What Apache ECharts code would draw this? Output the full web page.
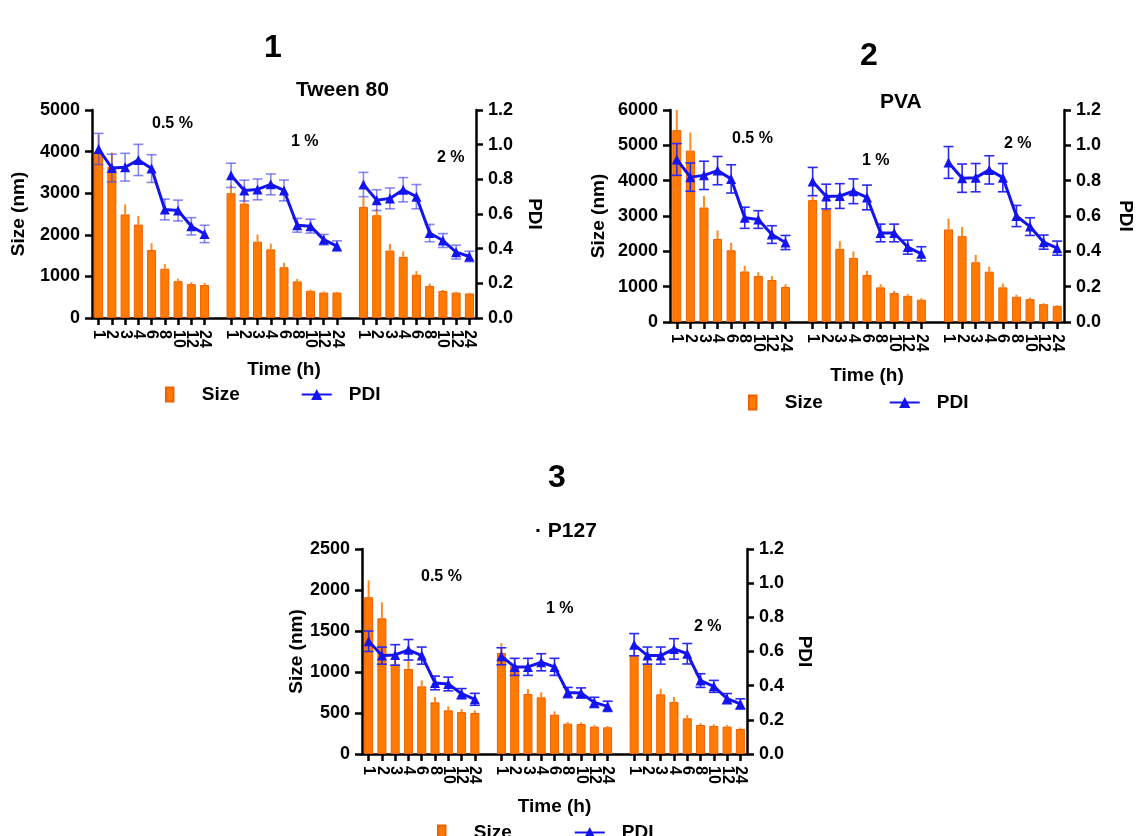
<!DOCTYPE html>
<html>
<head>
<meta charset="utf-8">
<title>Size and PDI over time</title>
<script src="https://cdn.jsdelivr.net/npm/echarts@6.0.0/dist/echarts.min.js"></script>
<style>
  html, body { margin: 0; padding: 0; background: #fff; }
  #chart { width: 1136px; height: 836px; }
</style>
</head>
<body>
<div id="chart"></div>
<script>
// time points (h), repeated for each concentration group
const hours = ['1', '2', '3', '4', '6', '8', '10', '12', '24'];
const concLabels = ['0.5 %', '1 %', '2 %'];

// 1 - Tween 80
const tweenSize05 = [4000, 3630, 2490, 2245, 1635, 1185, 885, 815, 795];
const tweenSize1 = [3000, 2750, 1835, 1650, 1220, 880, 655, 612, 612];
const tweenSize2 = [2670, 2470, 1620, 1470, 1040, 770, 650, 610, 590];
const tweenSizeErr05 = [400, 350, 240, 210, 160, 110, 60, 45, 45];
const tweenSizeErr1 = [200, 200, 170, 140, 110, 60, 30, 30, 20];
const tweenSizeErr2 = [230, 150, 160, 130, 90, 60, 25, 20, 20];
const tweenPdi05 = [0.975, 0.865, 0.87, 0.912, 0.862, 0.626, 0.62, 0.529, 0.485];
const tweenPdi1 = [0.823, 0.735, 0.742, 0.771, 0.736, 0.535, 0.53, 0.452, 0.415];
const tweenPdi2 = [0.77, 0.68, 0.69, 0.74, 0.70, 0.49, 0.447, 0.38, 0.355];
const tweenPdiErr05 = [0.09, 0.08, 0.08, 0.09, 0.08, 0.06, 0.06, 0.05, 0.05];
const tweenPdiErr1 = [0.07, 0.06, 0.06, 0.06, 0.06, 0.04, 0.04, 0.03, 0.03];
const tweenPdiErr2 = [0.07, 0.06, 0.06, 0.07, 0.07, 0.05, 0.04, 0.04, 0.03];

// 2 - PVA
const pvaSize05 = [5430, 4850, 3240, 2350, 2030, 1430, 1300, 1190, 990];
const pvaSize1 = [3450, 3170, 2070, 1815, 1330, 980, 820, 740, 630];
const pvaSize2 = [2620, 2430, 1690, 1425, 980, 713, 646, 504, 456];
const pvaSizeErr05 = [570, 510, 330, 240, 210, 160, 110, 110, 80];
const pvaSizeErr1 = [100, 200, 220, 185, 120, 90, 60, 50, 45];
const pvaSizeErr2 = [310, 260, 210, 145, 110, 57, 44, 26, 19];
const pvaPdi05 = [0.92, 0.82, 0.83, 0.857, 0.81, 0.59, 0.58, 0.495, 0.45];
const pvaPdi1 = [0.795, 0.71, 0.713, 0.74, 0.705, 0.504, 0.504, 0.424, 0.386];
const pvaPdi2 = [0.903, 0.814, 0.817, 0.861, 0.817, 0.60, 0.54, 0.452, 0.418];
const pvaPdiErr05 = [0.09, 0.08, 0.08, 0.08, 0.08, 0.06, 0.05, 0.05, 0.04];
const pvaPdiErr1 = [0.08, 0.07, 0.07, 0.07, 0.07, 0.05, 0.05, 0.04, 0.04];
const pvaPdiErr2 = [0.09, 0.08, 0.08, 0.08, 0.08, 0.06, 0.05, 0.04, 0.04];

// 3 - P127
const p127Size05 = [1912, 1655, 1090, 1037, 825, 630, 533, 512, 500];
const p127Size1 = [1232, 1077, 732, 691, 480, 370, 366, 334, 326];
const p127Size2 = [1200, 1099, 728, 636, 435, 354, 342, 334, 306];
const p127SizeErr05 = [206, 195, 150, 110, 73, 65, 48, 37, 32];
const p127SizeErr1 = [121, 90, 61, 61, 40, 20, 20, 20, 16];
const p127SizeErr2 = [40, 30, 69, 60, 40, 20, 20, 20, 16];
const p127Pdi05 = [0.66, 0.576, 0.58, 0.61, 0.576, 0.416, 0.41, 0.353, 0.32];
const p127Pdi1 = [0.572, 0.51, 0.51, 0.537, 0.51, 0.36, 0.357, 0.302, 0.279];
const p127Pdi2 = [0.64, 0.576, 0.576, 0.615, 0.587, 0.43, 0.396, 0.324, 0.293];
const p127PdiErr05 = [0.06, 0.05, 0.06, 0.06, 0.05, 0.04, 0.04, 0.03, 0.035];
const p127PdiErr1 = [0.05, 0.05, 0.05, 0.05, 0.05, 0.03, 0.03, 0.03, 0.03];
const p127PdiErr2 = [0.065, 0.05, 0.05, 0.06, 0.06, 0.04, 0.035, 0.03, 0.03];

const FONT = '"Liberation Sans", Arial, sans-serif';
const ORANGE = '#FF7A00';
const BLUE = '#1414F0';

// three groups on one category axis, one empty slot between them
function joinGroups(a, b, c) {
  return a.concat(['-'], b, ['-'], c);
}
const categories = joinGroups(hours, hours, hours).map(v => (v === '-' ? '' : v));

function errData(groups, errs, upOnly) {
  const out = [];
  groups.forEach((vals, g) => {
    vals.forEach((v, i) => {
      const e = errs[g][i];
      out.push([g * 10 + i, upOnly ? v : v - e, v + e]);
    });
  });
  return out;
}

function errSeries(xi, yi, data, color, width, cap, z) {
  return {
    type: 'custom',
    xAxisIndex: xi,
    yAxisIndex: yi,
    silent: true,
    z: z,
    encode: { x: 0, y: [1, 2] },
    data: data,
    renderItem: function (params, api) {
      const lo = api.coord([api.value(0), api.value(1)]);
      const hi = api.coord([api.value(0), api.value(2)]);
      const st = () => ({ stroke: color, lineWidth: width });
      const kids = [{ type: 'line', shape: { x1: lo[0], y1: lo[1], x2: hi[0], y2: hi[1] }, style: st() }];
      if (cap) {
        kids.push({ type: 'line', shape: { x1: hi[0] - cap, y1: hi[1], x2: hi[0] + cap, y2: hi[1] }, style: st() });
        kids.push({ type: 'line', shape: { x1: lo[0] - cap, y1: lo[1], x2: lo[0] + cap, y2: lo[1] }, style: st() });
      }
      return { type: 'group', children: kids };
    }
  };
}

const panels = [
  {
    size: [tweenSize05, tweenSize1, tweenSize2],
    sizeErr: [tweenSizeErr05, tweenSizeErr1, tweenSizeErr2],
    pdi: [tweenPdi05, tweenPdi1, tweenPdi2],
    pdiErr: [tweenPdiErr05, tweenPdiErr1, tweenPdiErr2],
    max: 5000, interval: 1000, errColor: 'rgba(70,70,235,0.65)'
  },
  {
    size: [pvaSize05, pvaSize1, pvaSize2],
    sizeErr: [pvaSizeErr05, pvaSizeErr1, pvaSizeErr2],
    pdi: [pvaPdi05, pvaPdi1, pvaPdi2],
    pdiErr: [pvaPdiErr05, pvaPdiErr1, pvaPdiErr2],
    max: 6000, interval: 1000, errColor: '#2a2af2'
  },
  {
    size: [p127Size05, p127Size1, p127Size2],
    sizeErr: [p127SizeErr05, p127SizeErr1, p127SizeErr2],
    pdi: [p127Pdi05, p127Pdi1, p127Pdi2],
    pdiErr: [p127PdiErr05, p127PdiErr1, p127PdiErr2],
    max: 2500, interval: 500, errColor: '#2a2af2'
  }
];

const grids = [
  { left: 92, top: 110, width: 384, height: 208 },
  { left: 670, top: 110, width: 396, height: 212 },
  { left: 362, top: 549, width: 385, height: 205 }
];
const sizeNameGap = [64, 62, 56];
const pdiNameGap = [49, 52, 48];
const timeNameGap = [42, 44, 43];

const axisLine = { show: true, lineStyle: { color: '#000', width: 2.5 } };
const tickStyle = { color: '#000', width: 2.5 };
const labelFont = { color: '#000', fontFamily: FONT, fontWeight: 'bold', fontSize: 18 };
const nameFont = { color: '#000', fontFamily: FONT, fontWeight: 'bold', fontSize: 19 };

const xAxes = [];
const yAxes = [];
const series = [];

panels.forEach((p, k) => {
  xAxes.push({
    type: 'category',
    gridIndex: k,
    data: categories,
    boundaryGap: true,
    axisLine: axisLine,
    axisTick: { show: true, length: 7, alignWithLabel: true, interval: (i, v) => v !== '', lineStyle: tickStyle },
    axisLabel: { interval: 0, rotate: -90, margin: 12, color: '#000', fontFamily: FONT, fontWeight: 'bold', fontSize: 16 },
    name: 'Time (h)',
    nameLocation: 'middle',
    nameGap: timeNameGap[k],
    nameTextStyle: nameFont
  });
  yAxes.push({
    type: 'value',
    gridIndex: k,
    position: 'left',
    min: 0,
    max: p.max,
    interval: p.interval,
    splitLine: { show: false },
    axisLine: axisLine,
    axisTick: { show: true, length: 7, lineStyle: tickStyle },
    axisLabel: Object.assign({ margin: 12, formatter: v => String(v) }, labelFont),
    name: 'Size (nm)',
    nameLocation: 'middle',
    nameRotate: 90,
    nameGap: sizeNameGap[k],
    nameTextStyle: nameFont
  });
  yAxes.push({
    type: 'value',
    gridIndex: k,
    position: 'right',
    min: 0,
    max: 1.2,
    interval: 0.2,
    splitLine: { show: false },
    axisLine: axisLine,
    axisTick: { show: true, length: 7, lineStyle: tickStyle },
    axisLabel: Object.assign({ margin: 12, formatter: v => v.toFixed(1) }, labelFont),
    name: 'PDI',
    nameLocation: 'middle',
    nameRotate: -90,
    nameGap: pdiNameGap[k],
    nameTextStyle: nameFont
  });

  series.push({
    type: 'bar',
    name: 'Size',
    xAxisIndex: k,
    yAxisIndex: 2 * k,
    barWidth: 9,
    itemStyle: { color: ORANGE, borderColor: '#F06000', borderWidth: 1 },
    z: 2,
    data: joinGroups(p.size[0], p.size[1], p.size[2])
  });
  series.push(errSeries(k, 2 * k, errData(p.size, p.sizeErr, true), '#FF8A20', 2, 0, 3));
  series.push(errSeries(k, 2 * k + 1, errData(p.pdi, p.pdiErr, false), p.errColor, 1.6, 5, 4));
  series.push({
    type: 'line',
    name: 'PDI',
    xAxisIndex: k,
    yAxisIndex: 2 * k + 1,
    symbol: 'triangle',
    symbolSize: 10,
    connectNulls: false,
    lineStyle: { color: BLUE, width: 3 },
    itemStyle: { color: BLUE },
    z: 5,
    data: joinGroups(p.pdi[0], p.pdi[1], p.pdi[2])
  });
});

function legendAt(left, top, gap) {
  return {
    left: left,
    top: top,
    itemGap: gap,
    itemWidth: 30,
    itemHeight: 14,
    selectedMode: false,
    textStyle: { color: '#000', fontFamily: FONT, fontWeight: 'bold', fontSize: 19, padding: [0, 0, 0, 12] },
    data: [{ name: 'Size', icon: 'path://M0,0h8v15h-8z' }, { name: 'PDI' }]
  };
}

function text(str, x, y, size) {
  return {
    type: 'text',
    left: x,
    top: y,
    style: { text: str, x: 0, y: 0, fill: '#000', font: 'bold ' + size + 'px ' + FONT, textAlign: 'center', textVerticalAlign: 'middle' }
  };
}

// panel titles and concentration labels
const graphics = [
  text('1', 264, 32, 32), text('Tween 80', 296, 80, 21),
  text('2', 860, 40, 32), text('PVA', 880, 92, 21),
  text('3', 548, 462, 32), text('· P127', 535, 521, 21)
];
const concPos = [
  [[152, 116], [291, 134], [437, 150]],
  [[732, 131], [862, 153], [1004, 136]],
  [[421, 569], [546, 601], [694, 619]]
];
concPos.forEach(row => row.forEach((pos, i) => graphics.push(text(concLabels[i], pos[0], pos[1], 16))));

const chart = echarts.init(document.getElementById('chart'));
chart.setOption({
  backgroundColor: '#ffffff',
  animation: false,
  grid: grids,
  xAxis: xAxes,
  yAxis: yAxes,
  legend: [legendAt(160, 380, 61), legendAt(743, 388, 66), legendAt(432, 818, 62)],
  graphic: graphics,
  series: series
});
</script>
</body>
</html>
